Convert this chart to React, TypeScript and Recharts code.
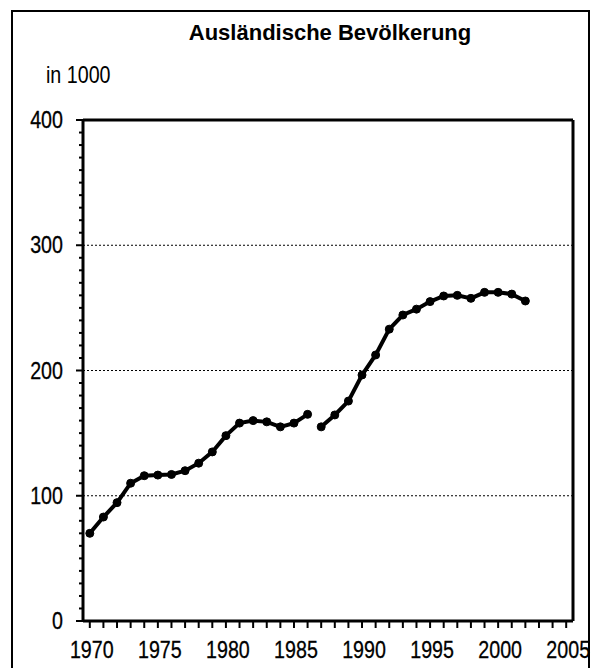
import { CartesianGrid, Line, LineChart, ReferenceLine, XAxis, YAxis } from 'recharts'

const yearsA = [1970, 1971, 1972, 1973, 1974, 1975, 1976, 1977, 1978, 1979, 1980, 1981, 1982, 1983, 1984, 1985, 1986]
const valuesA = [70, 83, 94.5, 110, 116, 116.5, 117, 120, 126, 135, 148, 158, 160, 159, 155, 158, 165]
const yearsB = [1987, 1988, 1989, 1990, 1991, 1992, 1993, 1994, 1995, 1996, 1997, 1998, 1999, 2000, 2001, 2002]
const valuesB = [155, 164.5, 175.6, 196.4, 212.4, 233, 244.3, 249, 255, 259.5, 260, 257.6, 262.4, 262.4, 261, 255.5]

const yTicks = Array.from({ length: 41 }, (_, i) => i * 10)
const xTicks = Array.from({ length: 36 }, (_, i) => 1970 + i)
const gridValues = [100, 200, 300]

const FONT = "'Liberation Sans', Arial, sans-serif"
// schmale Schrift nachbilden
const NARROW = 0.82

const seriesA = yearsA.map((year, i) => ({ year, value: valuesA[i] }))
const seriesB = yearsB.map((year, i) => ({ year, value: valuesB[i] }))

function YTick({ x, y, payload }: any) {
  const major = payload.value % 100 === 0
  return (
    <g>
      <line x1={x - (major ? 7 : 4)} x2={x} y1={y} y2={y} stroke="#000" strokeWidth={2} />
      {major && (
        <text
          transform={`translate(${x - 20},${y}) scale(${NARROW},1)`}
          textAnchor="end"
          dominantBaseline="central"
          fontSize={24}
          fontFamily={FONT}
          fill="#000"
          stroke="#000"
          strokeWidth={0.3}
        >
          {payload.value}
        </text>
      )}
    </g>
  )
}

function XTick({ x, y, payload }: any) {
  const major = payload.value % 5 === 0
  return (
    <g>
      <line x1={x} x2={x} y1={y} y2={y + 7} stroke="#000" strokeWidth={2} />
      {major && (
        <text
          transform={`translate(${x + 2},${y + 37}) scale(${NARROW},1)`}
          textAnchor="middle"
          fontSize={24}
          fontFamily={FONT}
          fill="#000"
          stroke="#000"
          strokeWidth={0.3}
        >
          {payload.value}
        </text>
      )}
    </g>
  )
}

export default function App() {
  return (
    <div style={{ position: 'absolute', left: 0, top: 0, width: 591, height: 668, background: '#fff', overflow: 'hidden' }}>
      <div style={{ position: 'absolute', left: 11, top: 10, width: 575, height: 680, border: '2px solid #000' }} />
      <div
        style={{
          position: 'absolute',
          left: 0,
          width: 660,
          top: 20,
          textAlign: 'center',
          fontFamily: FONT,
          fontWeight: 'bold',
          fontSize: 22,
          lineHeight: '26px',
        }}
      >
        Ausländische Bevölkerung
      </div>
      <div
        style={{
          position: 'absolute',
          left: 46,
          top: 60,
          fontFamily: FONT,
          fontSize: 24,
          lineHeight: '30px',
          transform: `scaleX(${NARROW})`,
          transformOrigin: 'left top',
        }}
      >
        in 1000
      </div>
      <div style={{ position: 'absolute', left: 0, top: 0 }}>
        <LineChart width={591} height={668} margin={{ top: 120, right: 18, left: 0, bottom: 0 }}>
          <CartesianGrid
            vertical={false}
            horizontalValues={gridValues}
            stroke="#000"
            strokeDasharray="2 2"
            strokeWidth={1}
          />
          <XAxis
            type="number"
            dataKey="year"
            domain={[1969.5, 2005.5]}
            ticks={xTicks}
            interval={0}
            height={47}
            tickSize={0}
            tickMargin={0}
            tick={<XTick />}
            axisLine={{ stroke: '#000', strokeWidth: 3 }}
            allowDuplicatedCategory={false}
          />
          <YAxis
            type="number"
            domain={[0, 400]}
            ticks={yTicks}
            interval={0}
            width={83}
            tickSize={0}
            tickMargin={0}
            tick={<YTick />}
            axisLine={{ stroke: '#000', strokeWidth: 3 }}
          />
          <ReferenceLine y={400} stroke="#000" strokeWidth={3} />
          <ReferenceLine x={2005.5} stroke="#000" strokeWidth={3} />
          <Line
            data={seriesA}
            dataKey="value"
            type="linear"
            stroke="#000"
            strokeWidth={4}
            dot={{ r: 4, fill: '#000', stroke: '#000', strokeWidth: 1 }}
            isAnimationActive={false}
          />
          <Line
            data={seriesB}
            dataKey="value"
            type="linear"
            stroke="#000"
            strokeWidth={4}
            dot={{ r: 4, fill: '#000', stroke: '#000', strokeWidth: 1 }}
            isAnimationActive={false}
          />
        </LineChart>
      </div>
    </div>
  )
}
